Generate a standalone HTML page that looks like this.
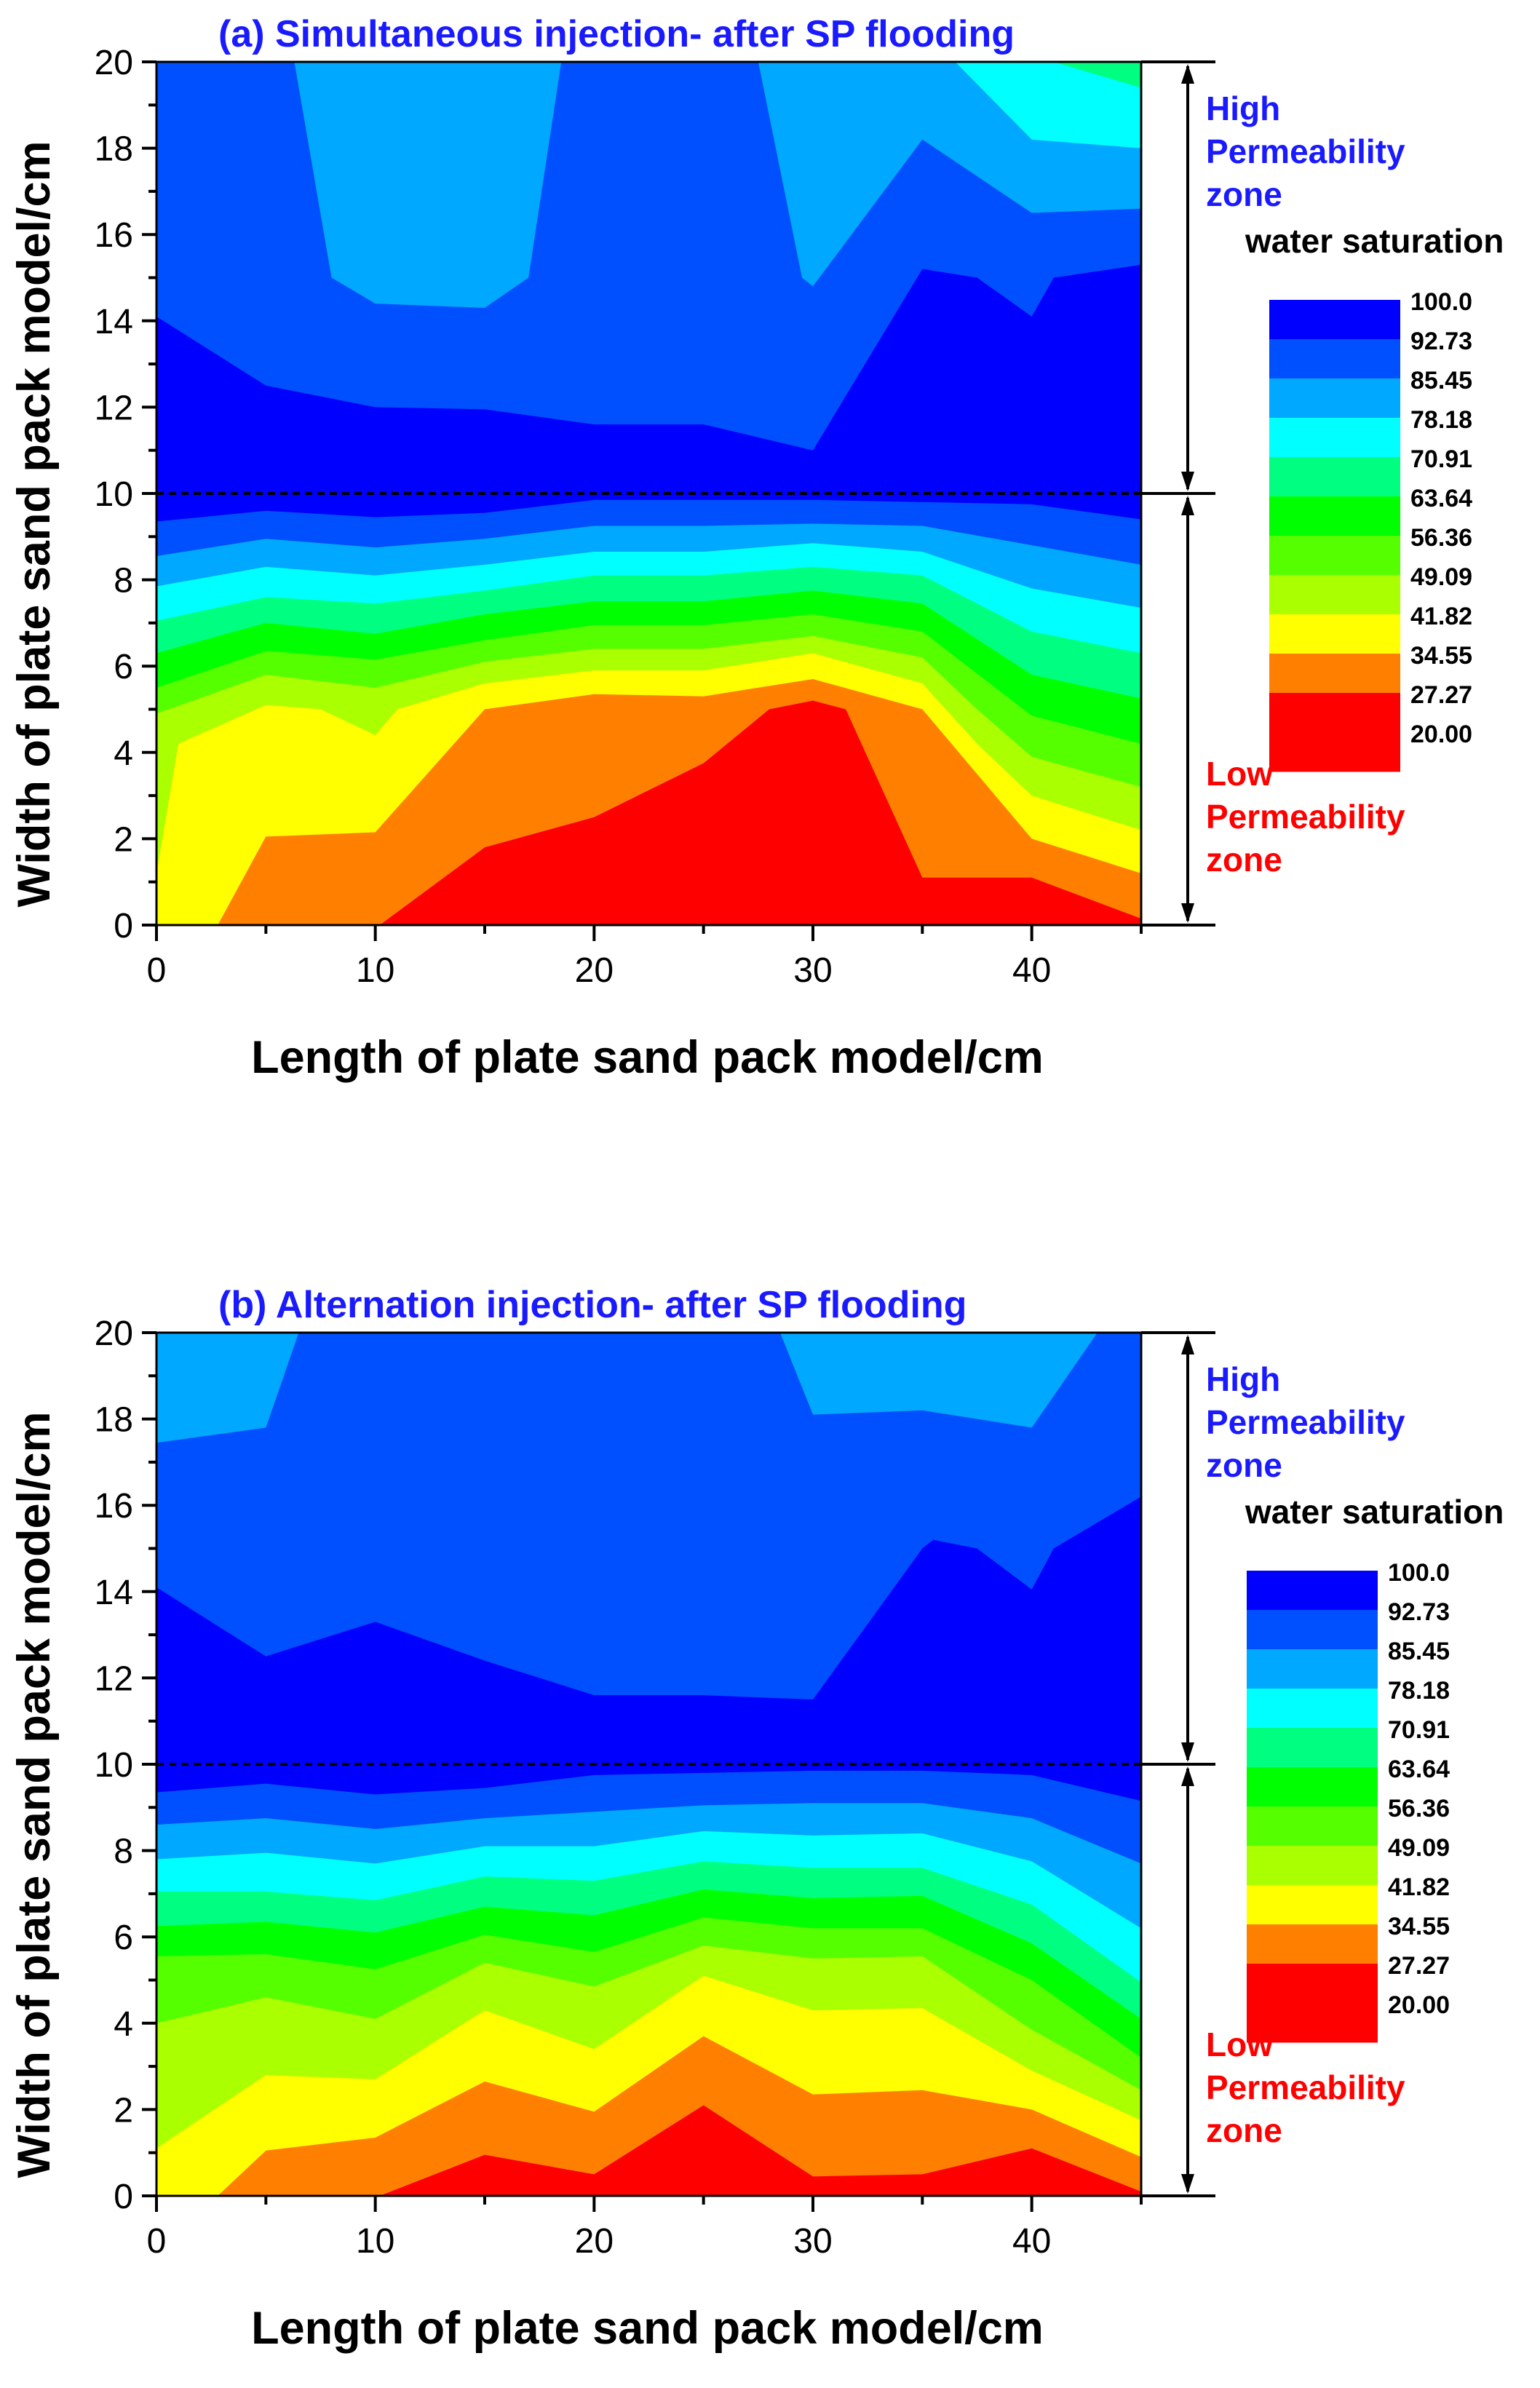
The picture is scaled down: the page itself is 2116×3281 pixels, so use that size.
<!DOCTYPE html>
<html><head><meta charset="utf-8"><style>
html,body{margin:0;padding:0;background:#fff}
svg text{font-family:"Liberation Sans",Arial,sans-serif;font-weight:bold}
</style></head><body>
<svg id="c" width="2116" height="3276" viewBox="0 0 2116 3276" xmlns="http://www.w3.org/2000/svg"></svg>
<script>
const levelLabels=["100.0","92.73","85.45","78.18","70.91","63.64","56.36","49.09","41.82","34.55","27.27","20.00"];
const levelColors=["#0000ff","#0050ff","#00a8ff","#00ffff","#00ff80","#00ff00","#55ff00","#aaff00","#ffff00","#ff8000","#ff0000","#ff0000"];
const xTicks=[0,10,20,30,40];
const yTicks=[0,2,4,6,8,10,12,14,16,18,20];
const gx=[0,5,10,15,20,25,30,35,40,45];
// panel a: upper patches [colorIndex, points]
const aPatches=[
 [2,[[6.3,20],[8,15],[10,14.4],[15,14.3],[17,15],[18.5,20]]],
 [2,[[27.5,20],[29.5,15],[30,14.8],[35,18.2],[40,16.5],[45,16.6],[45,20]]],
 [3,[[36.5,20],[40,18.2],[45,18],[45,20]]],
 [4,[[41,20],[45,19.4],[45,20]]]
];
const aB1=[[0,14.1],[5,12.5],[10,12],[15,11.95],[20,11.6],[25,11.6],[30,11],[35,15.2],[37.5,15],[40,14.1],[41,15],[45,15.3]];
const aMidDark=[9.35,9.6,9.45,9.55,9.85,9.85,9.85,9.8,9.75,9.4];
const aLightMid=[8.55,8.95,8.75,8.95,9.25,9.25,9.3,9.25,8.8,8.35];
const aCyanLight=[7.85,8.3,8.1,8.35,8.65,8.65,8.85,8.65,7.8,7.35];
const aMintCyan=[7.05,7.6,7.45,7.75,8.1,8.1,8.3,8.1,6.8,6.3];
const aGreenMint=[6.3,7.0,6.75,7.2,7.5,7.5,7.75,7.45,5.8,5.25];
const aLgreenGreen=[[0,5.5],[5,6.35],[10,6.15],[15,6.6],[20,6.95],[25,6.95],[30,7.2],[35,6.8],[40,4.85],[45,4.2]];
const aYgreenLgreen=[[0,4.9],[5,5.8],[10,5.5],[15,6.1],[20,6.4],[25,6.4],[30,6.7],[35,6.2],[37.5,5.0],[40,3.9],[45,3.2]];
const aYellowYgreen=[[0,1.2],[1,4.2],[5,5.1],[7.5,5.0],[10,4.4],[11,5.0],[15,5.6],[20,5.9],[25,5.9],[30,6.3],[35,5.6],[37.5,4.2],[40,3.0],[45,2.2]];
const aOrangeYellow=[[0,-0.5],[2.8,0],[5,2.05],[10,2.15],[15,5.0],[20,5.35],[25,5.3],[30,5.7],[35,5.0],[40,2.0],[45,1.2]];
const aRedOrange=[[0,-0.5],[10.2,0],[15,1.8],[20,2.5],[25,3.75],[28,5.0],[30,5.2],[31.5,5.0],[35,1.1],[40,1.1],[45,0.15]];
// panel b
const bPatches=[
 [2,[[0,20],[0,17.45],[5,17.8],[6.5,20]]],
 [2,[[28.5,20],[30,18.1],[35,18.2],[40,17.8],[43,20]]]
];
const bB1=[[0,14.1],[5,12.5],[10,13.3],[15,12.4],[20,11.6],[25,11.6],[30,11.5],[35,15.0],[35.5,15.2],[37.5,15],[40,14.05],[41,15],[45,16.2]];
const bMidDark=[9.35,9.55,9.3,9.45,9.75,9.8,9.85,9.85,9.75,9.15];
const bLightMid=[8.6,8.75,8.5,8.75,8.9,9.05,9.1,9.1,8.75,7.7];
const bCyanLight=[7.8,7.95,7.7,8.1,8.1,8.45,8.35,8.4,7.75,6.2];
const bMintCyan=[7.05,7.05,6.85,7.4,7.3,7.75,7.6,7.6,6.75,4.95];
const bGreenMint=[6.25,6.35,6.1,6.7,6.5,7.1,6.9,6.95,5.85,4.1];
const bLgreenGreen=[5.55,5.6,5.25,6.05,5.65,6.45,6.2,6.2,5.0,3.2];
const bYgreenLgreen=[4.0,4.6,4.1,5.4,4.85,5.8,5.5,5.55,3.85,2.45];
const bYellowYgreen=[1.1,2.8,2.7,4.3,3.4,5.1,4.3,4.35,2.9,1.75];
const bOrangeYellow=[[0,-0.5],[2.8,0],[5,1.05],[10,1.35],[15,2.65],[20,1.95],[25,3.7],[30,2.35],[35,2.45],[40,2.0],[45,0.9]];
const bRedOrange=[[0,-0.5],[10.2,0],[15,0.95],[20,0.5],[25,2.1],[30,0.45],[35,0.5],[40,1.1],[45,0.1]];

const NS="http://www.w3.org/2000/svg";
const svg=document.getElementById('c');
function el(tag,attrs,parent){const e=document.createElementNS(NS,tag);for(const k in attrs)e.setAttribute(k,attrs[k]);(parent||svg).appendChild(e);return e;}
function txt(s,attrs,parent){const e=el('text',attrs,parent);e.textContent=s;return e;}
function pts(arr){return Array.isArray(arr[0])?arr:arr.map((v,i)=>[gx[i],v]);}

function panel(cfg){
 const L=215,R=1568,T=cfg.top,B=cfg.top+1186;
 const sx=v=>L+(R-L)*v/45, sy=v=>B-(B-T)*v/20;
 const g=el('g',{});
 
 
 const cp=el('clipPath',{id:'clip'+cfg.id},g);
 el('rect',{x:L,y:T,width:R-L,height:B-T},cp);
 const plot=el('g',{'clip-path':'url(#clip'+cfg.id+')'},g);
 
 
 const base=el('rect',{x:L,y:T,width:R-L,height:B-T,fill:levelColors[1]},plot);
 
 
 cfg.patches.forEach(p=>{
  const poly=el('polygon',{points:p[1].map(q=>sx(q[0])+','+sy(q[1])).join(' '),fill:levelColors[p[0]]},plot);
  
  
 });
 cfg.bounds.forEach(b=>{
  const P=pts(b[1]);
  const s=P.map(q=>sx(q[0])+','+sy(q[1])).concat([sx(45)+','+(B+5),sx(0)+','+(B+5)]).join(' ');
  const poly=el('polygon',{points:s,fill:levelColors[b[0]]},plot);
  
  
 });
 const d=el('line',{x1:L,x2:R,y1:sy(10),y2:sy(10),stroke:'#000','stroke-width':4,'stroke-dasharray':'10,7'},g);
 
 
 const fr=el('rect',{x:L,y:T,width:R-L,height:B-T,fill:'none',stroke:'#000','stroke-width':3},g);
 
 
 for(let v=0;v<=45;v+=5){const X=sx(v);const maj=v%10===0;
  const t=el('line',{x1:X,x2:X,y1:B,y2:B+(maj?22:12),stroke:'#000','stroke-width':4},g);
  }
 xTicks.forEach(v=>{const t=txt(String(v),{x:sx(v),y:B+78,'font-size':48,'text-anchor':'middle',style:'font-weight:normal'},g);
  });
 for(let v=0;v<=20;v+=1){const Y=sy(v);const maj=v%2===0;
  const t=el('line',{x1:L,x2:L-(maj?20:11),y1:Y,y2:Y,stroke:'#000','stroke-width':4},g);
  }
 yTicks.forEach(v=>{const t=txt(String(v),{x:L-32,y:sy(v)+17,'font-size':48,'text-anchor':'end',style:'font-weight:normal'},g);
  });
 const xt=txt('Length of plate sand pack model/cm',{x:(L+R)/2-2,y:B+203,'font-size':63,'text-anchor':'middle'},g);
 
 const yc=(T+B)/2+42;
 const yt=txt('Width of plate sand pack model/cm',{x:0,y:0,'font-size':63,'text-anchor':'middle',transform:'translate(68,'+yc+') rotate(-90)'},g);
 
 const ti=txt(cfg.title,{x:300,y:T-21,'font-size':52,fill:'#1a1aff'},g);
 
 [20,10,0].forEach(v=>{const t=el('line',{x1:R,x2:1670,y1:sy(v),y2:sy(v),stroke:'#000','stroke-width':4},g);
  });
 const AX=1632;
 [[20,10],[10,0]].forEach(r=>{
  const y1=sy(r[0]),y2=sy(r[1]);
  const a=el('g',{},g);
  
  el('line',{x1:AX,x2:AX,y1:y1+6,y2:y2-6,stroke:'#000','stroke-width':4},a);
  el('polygon',{points:`${AX},${y1+3} ${AX-9},${y1+30} ${AX+9},${y1+30}`,fill:'#000'},a);
  el('polygon',{points:`${AX},${y2-3} ${AX-9},${y2-30} ${AX+9},${y2-30}`,fill:'#000'},a);
 });
 ['High','Permeability','zone'].forEach((s,i)=>{const t=txt(s,{x:1657,y:T+80+i*59,'font-size':46,fill:'#1a1aff'},g);
  });
 ['Low','Permeability','zone'].forEach((s,i)=>{const t=txt(s,{x:1657,y:T+994+i*59,'font-size':46,fill:'#ff0000'},g);
  });
 const ws=txt('water saturation',{x:1711,y:T+262,'font-size':46},g);
 
 const lg=el('g',{},g);
 
 const lx=cfg.legX,ly=T+327,bh=54,bw=180;
 levelColors.forEach((c,i)=>{const r=el('rect',{x:lx,y:ly+i*bh,width:bw,height:bh+0.5,fill:c},lg);
  });
 levelLabels.forEach((s,i)=>{const t=txt(s,{x:lx+bw+14,y:ly+i*bh+14,'font-size':34},lg);
  });
}
panel({id:'a',top:85,legX:1744,title:'(a) Simultaneous injection- after SP flooding',patches:aPatches,
 bounds:[[0,aB1],[1,aMidDark],[2,aLightMid],[3,aCyanLight],[4,aMintCyan],[5,aGreenMint],[6,aLgreenGreen],[7,aYgreenLgreen],[8,aYellowYgreen],[9,aOrangeYellow],[10,aRedOrange]]});
panel({id:'b',top:1831,legX:1713,title:'(b) Alternation injection- after SP flooding',patches:bPatches,
 bounds:[[0,bB1],[1,bMidDark],[2,bLightMid],[3,bCyanLight],[4,bMintCyan],[5,bGreenMint],[6,bLgreenGreen],[7,bYgreenLgreen],[8,bYellowYgreen],[9,bOrangeYellow],[10,bRedOrange]]});
</script>
</body></html>
